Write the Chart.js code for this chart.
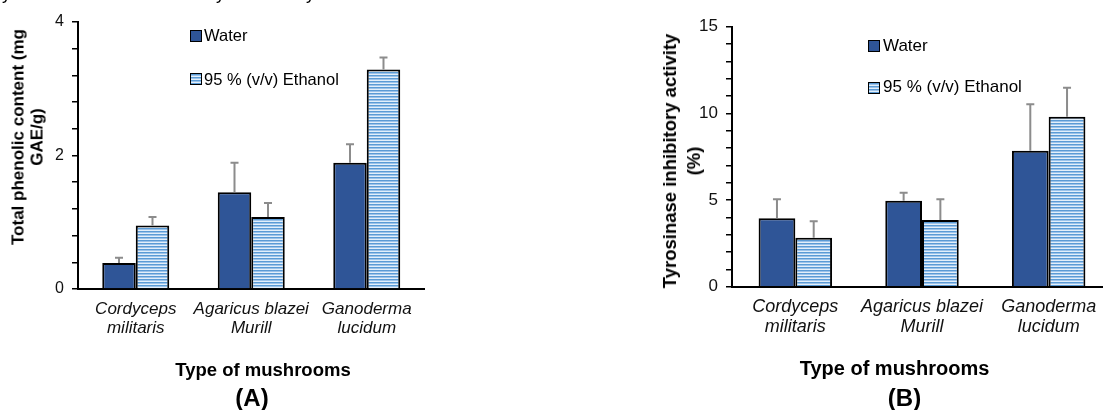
<!DOCTYPE html>
<html>
<head>
<meta charset="utf-8">
<script src="https://cdn.jsdelivr.net/npm/chart.js@4.4.1/dist/chart.umd.min.js"></script>
<style>
html,body{margin:0;padding:0;width:1103px;height:410px;overflow:hidden;background:#fff;font-family:Arial,"Liberation Sans",sans-serif;}
.abs{position:absolute;white-space:nowrap;color:#000;}
.ytitle{position:absolute;white-space:nowrap;font-weight:bold;text-align:center;color:#000;transform:translate(-50%,-50%) rotate(-90deg);}
.ctr{position:absolute;white-space:nowrap;font-weight:bold;color:#000;transform:translate(-50%,-50%);}
.lbox{position:absolute;width:12px;height:12px;box-sizing:border-box;border:1.5px solid #000;}
.water{background:#2F5597;}
.eth{background:repeating-linear-gradient(to bottom,#5B9BD5 0px,#5B9BD5 1px,#9CC3EA 1px,#9CC3EA 2px,#E3EFFA 2px,#E3EFFA 3px);}
</style>
</head>
<body>
<canvas id="chartA" width="440" height="410" style="position:absolute;left:0;top:0;"></canvas>
<canvas id="chartB" width="480" height="410" style="position:absolute;left:640px;top:0;"></canvas>

<!-- cropped caption descenders at the very top -->
<div class="abs" style="left:2px;top:-17px;font-size:18px;line-height:20px;">y</div>
<div class="abs" style="left:216px;top:-17px;font-size:18px;line-height:20px;">y</div>
<div class="abs" style="left:306px;top:-17px;font-size:18px;line-height:20px;">y</div>

<!-- Chart A titles & legend -->
<div class="ytitle" style="left:28px;top:137px;font-size:17px;line-height:18.5px;">Total phenolic content (mg<br>GAE/g)</div>
<div class="ctr" style="left:263px;top:370px;font-size:18.5px;">Type of mushrooms</div>
<div class="ctr" style="left:252px;top:398px;font-size:24px;">(A)</div>
<div class="lbox water" style="left:190px;top:30px;"></div>
<div class="abs" style="left:204px;top:25px;font-size:16.5px;line-height:20px;">Water</div>
<div class="lbox eth" style="left:190px;top:73px;"></div>
<div class="abs" style="left:204px;top:69px;font-size:16.5px;line-height:20px;">95 % (v/v) Ethanol</div>

<!-- Chart B titles & legend -->
<div class="ytitle" style="left:682px;top:161px;font-size:18.5px;line-height:24px;">Tyrosinase inhibitory activity<br>(%)</div>
<div class="ctr" style="left:894.5px;top:367.5px;font-size:20px;">Type of mushrooms</div>
<div class="ctr" style="left:904.5px;top:398px;font-size:24px;">(B)</div>
<div class="lbox water" style="left:868px;top:40px;"></div>
<div class="abs" style="left:883px;top:35.5px;font-size:17px;line-height:20px;">Water</div>
<div class="lbox eth" style="left:868px;top:81.5px;"></div>
<div class="abs" style="left:883px;top:77px;font-size:17px;line-height:20px;">95 % (v/v) Ethanol</div>

<script>
// ---------- data ----------
const categories = [["Cordyceps", "militaris"], ["Agaricus blazei", "Murill"], ["Ganoderma", "lucidum"]];
const seriesNames = ["Water", "95 % (v/v) Ethanol"];

// (A) Total phenolic content (mg GAE/g)
const phenolWater = [0.39, 1.45, 1.89];
const phenolWaterErr = [0.08, 0.44, 0.28];
const phenolEthanol = [0.95, 1.08, 3.29];
const phenolEthanolErr = [0.13, 0.21, 0.18];
const phenolTicks = { min: 0, max: 4, step: 0.4, labelEvery: 2 };

// (B) Tyrosinase inhibitory activity (%)
const tyrWater = [3.95, 4.96, 7.85];
const tyrWaterErr = [1.09, 0.46, 2.67];
const tyrEthanol = [2.83, 3.85, 9.81];
const tyrEthanolErr = [0.94, 1.19, 1.67];
const tyrTicks = { min: 0, max: 15, step: 1, labelEvery: 5 };

// ---------- styles ----------
function stripePattern() {
  const c = document.createElement('canvas');
  c.width = 4; c.height = 3;
  const g = c.getContext('2d');
  const rows = ['#5B9BD5', '#9CC3EA', '#E3EFFA'];
  rows.forEach((col, i) => { g.fillStyle = col; g.fillRect(0, i, 4, 1); });
  return g.createPattern(c, 'repeat');
}
const ethPattern = stripePattern();

const errorBarPlugin = {
  id: 'errorBars',
  afterDatasetsDraw(chart) {
    const ctx = chart.ctx;
    const yScale = chart.scales.y;
    chart.data.datasets.forEach((ds, i) => {
      const meta = chart.getDatasetMeta(i);
      meta.data.forEach((el, j) => {
        const v = ds.data[j];
        const e = ds.errors[j];
        const yTop = yScale.getPixelForValue(v + e);
        ctx.save();
        ctx.strokeStyle = '#8C8C8C';
        ctx.lineWidth = 2;
        ctx.beginPath();
        ctx.moveTo(el.x, el.y);
        ctx.lineTo(el.x, yTop);
        ctx.moveTo(el.x - 4, yTop);
        ctx.lineTo(el.x + 4, yTop);
        ctx.stroke();
        ctx.restore();
      });
    });
  }
};

function makeChart(id, water, waterErr, eth, ethErr, tk, cfg) {
  return new Chart(document.getElementById(id), {
    type: 'bar',
    data: {
      labels: categories,
      datasets: [
        { label: seriesNames[0], data: water, errors: waterErr, backgroundColor: '#2F5597', borderColor: '#000', borderWidth: 2 },
        { label: seriesNames[1], data: eth, errors: ethErr, backgroundColor: ethPattern, borderColor: '#000', borderWidth: 2 }
      ]
    },
    options: {
      responsive: false,
      animation: false,
      events: [],
      layout: { padding: cfg.padding },
      datasets: { bar: { categoryPercentage: 0.58, barPercentage: 1.0 } },
      plugins: { legend: { display: false }, tooltip: { enabled: false }, title: { display: false } },
      scales: {
        x: {
          grid: { display: false, drawTicks: false },
          border: { display: true, color: '#000', width: 2 },
          ticks: { color: '#111', padding: 10, maxRotation: 0, autoSkip: false,
                   font: { family: 'Arial, "Liberation Sans"', size: cfg.catSize, style: 'italic', lineHeight: cfg.catLH } },
          afterFit: s => { s.height = cfg.xHeight; }
        },
        y: {
          min: tk.min, max: tk.max,
          grid: { display: true, drawOnChartArea: false, drawTicks: true, tickLength: 6, color: '#000', lineWidth: 1.5 },
          border: { display: true, color: '#000', width: 2 },
          ticks: {
            stepSize: tk.step, color: '#111', padding: 8, autoSkip: false,
            font: { family: 'Arial, "Liberation Sans"', size: cfg.tickSize },
            callback: v => {
              const r = v / tk.labelEvery;
              return Math.abs(r - Math.round(r)) < 1e-6 ? String(Math.round(v)) : '';
            }
          },
          afterFit: s => { s.width = cfg.yWidth; }
        }
      }
    },
    plugins: [errorBarPlugin]
  });
}

makeChart('chartA', phenolWater, phenolWaterErr, phenolEthanol, phenolEthanolErr, phenolTicks,
  { padding: { top: 22, right: 15.5, bottom: 0, left: 0 }, yWidth: 78, xHeight: 121, catSize: 17, catLH: 1.15, tickSize: 16 });
makeChart('chartB', tyrWater, tyrWaterErr, tyrEthanol, tyrEthanolErr, tyrTicks,
  { padding: { top: 26.7, right: 8, bottom: 0, left: 0 }, yWidth: 92, xHeight: 123.3, catSize: 18, catLH: 1.11, tickSize: 17 });
</script>
</body>
</html>
